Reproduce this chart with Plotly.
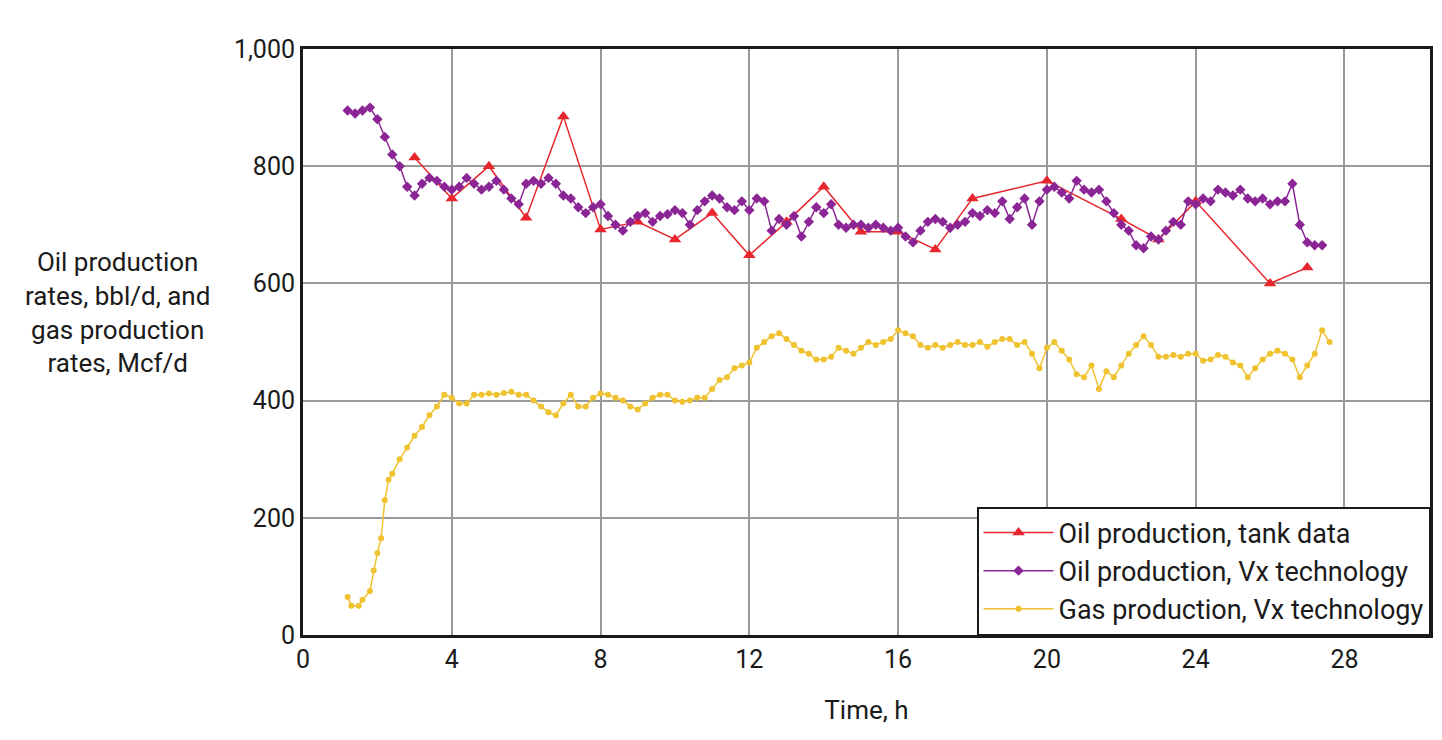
import numpy as np
import plotly.graph_objects as go

# tank data
tank_t = [3, 4, 5, 6, 7, 8, 9, 10, 11, 12, 13, 14, 15, 16, 17, 18, 20, 22, 23, 24, 26, 27]
tank_oil = [815, 745, 800, 712, 885, 692, 705, 675, 720, 648, 705, 765, 688, 688, 658, 745,
            775, 710, 675, 740, 600, 627]

# Vx oil, every 0.2 h from 1.2
vx_oil = [895, 890, 895, 900, 880, 850, 820, 800, 765, 750, 770, 780, 775, 765, 760, 765,
          780, 770, 760, 765, 775, 760, 745, 735, 770, 775, 770, 780, 770, 750, 745, 730,
          720, 730, 735, 715, 700, 690, 705, 715, 720, 705, 715, 718, 725, 720, 700, 725,
          740, 750, 745, 730, 725, 740, 725, 745, 740, 690, 710, 700, 715, 680, 705, 730,
          720, 735, 700, 695, 700, 700, 695, 700, 695, 690, 695, 680, 670, 690, 705, 710,
          705, 695, 700, 705, 720, 715, 725, 720, 740, 710, 730, 745, 700, 740, 760, 765,
          755, 745, 775, 760, 755, 760, 740, 720, 700, 690, 665, 660, 680, 675, 690, 705,
          700, 740, 735, 745, 740, 760, 755, 750, 760, 745, 740, 745, 735, 740, 740, 770,
          700, 670, 665, 665]
vx_oil_t = np.round(1.2 + 0.2 * np.arange(len(vx_oil)), 2)

# Vx gas
gas_t = [1.2, 1.3, 1.5, 1.6, 1.8, 1.9, 2.0, 2.1, 2.2, 2.3, 2.4, 2.6, 2.8, 3.0, 3.2, 3.4, 3.6, 3.8]
gas = [65, 50, 50, 60, 75, 110, 140, 165, 230, 265, 275, 300, 320, 340, 355, 375, 390, 410]
gas_rest = [405, 395, 395, 410, 410, 412, 410, 413, 415, 410, 410, 400, 390, 380, 375, 395,
            410, 390, 390, 405, 412, 410, 405, 400, 390, 385, 395, 405, 410, 410, 400, 398,
            400, 405, 405, 420, 435, 440, 455, 460, 465, 490, 500, 510, 515, 505, 495, 485,
            480, 470, 470, 475, 490, 485, 480, 490, 500, 495, 500, 505, 520, 515, 510, 495,
            490, 495, 490, 495, 500, 495, 495, 500, 492, 500, 505, 505, 495, 500, 480, 455,
            490, 500, 485, 470, 445, 440, 460, 420, 450, 440, 460, 480, 495, 510, 495, 475,
            475, 478, 475, 480, 480, 468, 470, 478, 475, 465, 460, 440, 455, 470, 480, 485,
            480, 470, 440, 460, 480, 520, 500]
gas_t = gas_t + list(np.round(4.0 + 0.2 * np.arange(len(gas_rest)), 2))
gas = gas + gas_rest

font = "Liberation Sans Narrow, Roboto, Arial"

fig = go.Figure()
fig.add_trace(go.Scatter(x=tank_t, y=tank_oil, mode="lines+markers", name="Oil production, tank data",
                         line=dict(color="#e8262d", width=1.5),
                         marker=dict(symbol="triangle-up", size=11, color="#e8262d")))
fig.add_trace(go.Scatter(x=vx_oil_t, y=vx_oil, mode="lines+markers", name="Oil production, Vx technology",
                         line=dict(color="#8b2595", width=1.5),
                         marker=dict(symbol="diamond", size=8, color="#8b2595")))
fig.add_trace(go.Scatter(x=gas_t, y=gas, mode="lines+markers", name="Gas production, Vx technology",
                         line=dict(color="#f0c22f", width=1.5),
                         marker=dict(symbol="circle", size=6, color="#f0c22f")))

fig.update_xaxes(range=[0, 30.3], tickvals=[0, 4, 8, 12, 16, 20, 24, 28],
                 showgrid=True, gridcolor="#999999", gridwidth=1.5,
                 showline=True, linecolor="#1a1a1a", linewidth=3, mirror=True,
                 ticks="", zeroline=False, tickfont=dict(size=25, color="#1a1a1a"),
                 title=dict(text="Time, h", font=dict(size=26, color="#1a1a1a"), standoff=28))
fig.update_yaxes(range=[0, 1000], tickvals=[0, 200, 400, 600, 800, 1000], tickformat=",",
                 showgrid=True, gridcolor="#999999", gridwidth=1.5,
                 showline=True, linecolor="#1a1a1a", linewidth=3, mirror=True,
                 ticks="", zeroline=False, tickfont=dict(size=25, color="#1a1a1a"))

fig.add_annotation(text="Oil production<br>rates, bbl/d, and<br>gas production<br>rates, Mcf/d",
                   xref="paper", yref="paper", x=-0.165, y=0.55, xanchor="center", yanchor="middle",
                   showarrow=False, align="center", font=dict(size=26, color="#1a1a1a", family=font))

fig.update_layout(
    width=1442, height=740,
    margin=dict(l=295, r=20, t=41, b=113),
    plot_bgcolor="white", paper_bgcolor="white",
    font=dict(family=font, color="#1a1a1a"),
    legend=dict(x=1.0, y=0.0, xanchor="right", yanchor="bottom",
                bgcolor="white", bordercolor="#1a1a1a", borderwidth=1.5,
                font=dict(size=27, color="#1a1a1a"), itemwidth=70, tracegroupgap=0),
)

fig.write_html("out.html")
